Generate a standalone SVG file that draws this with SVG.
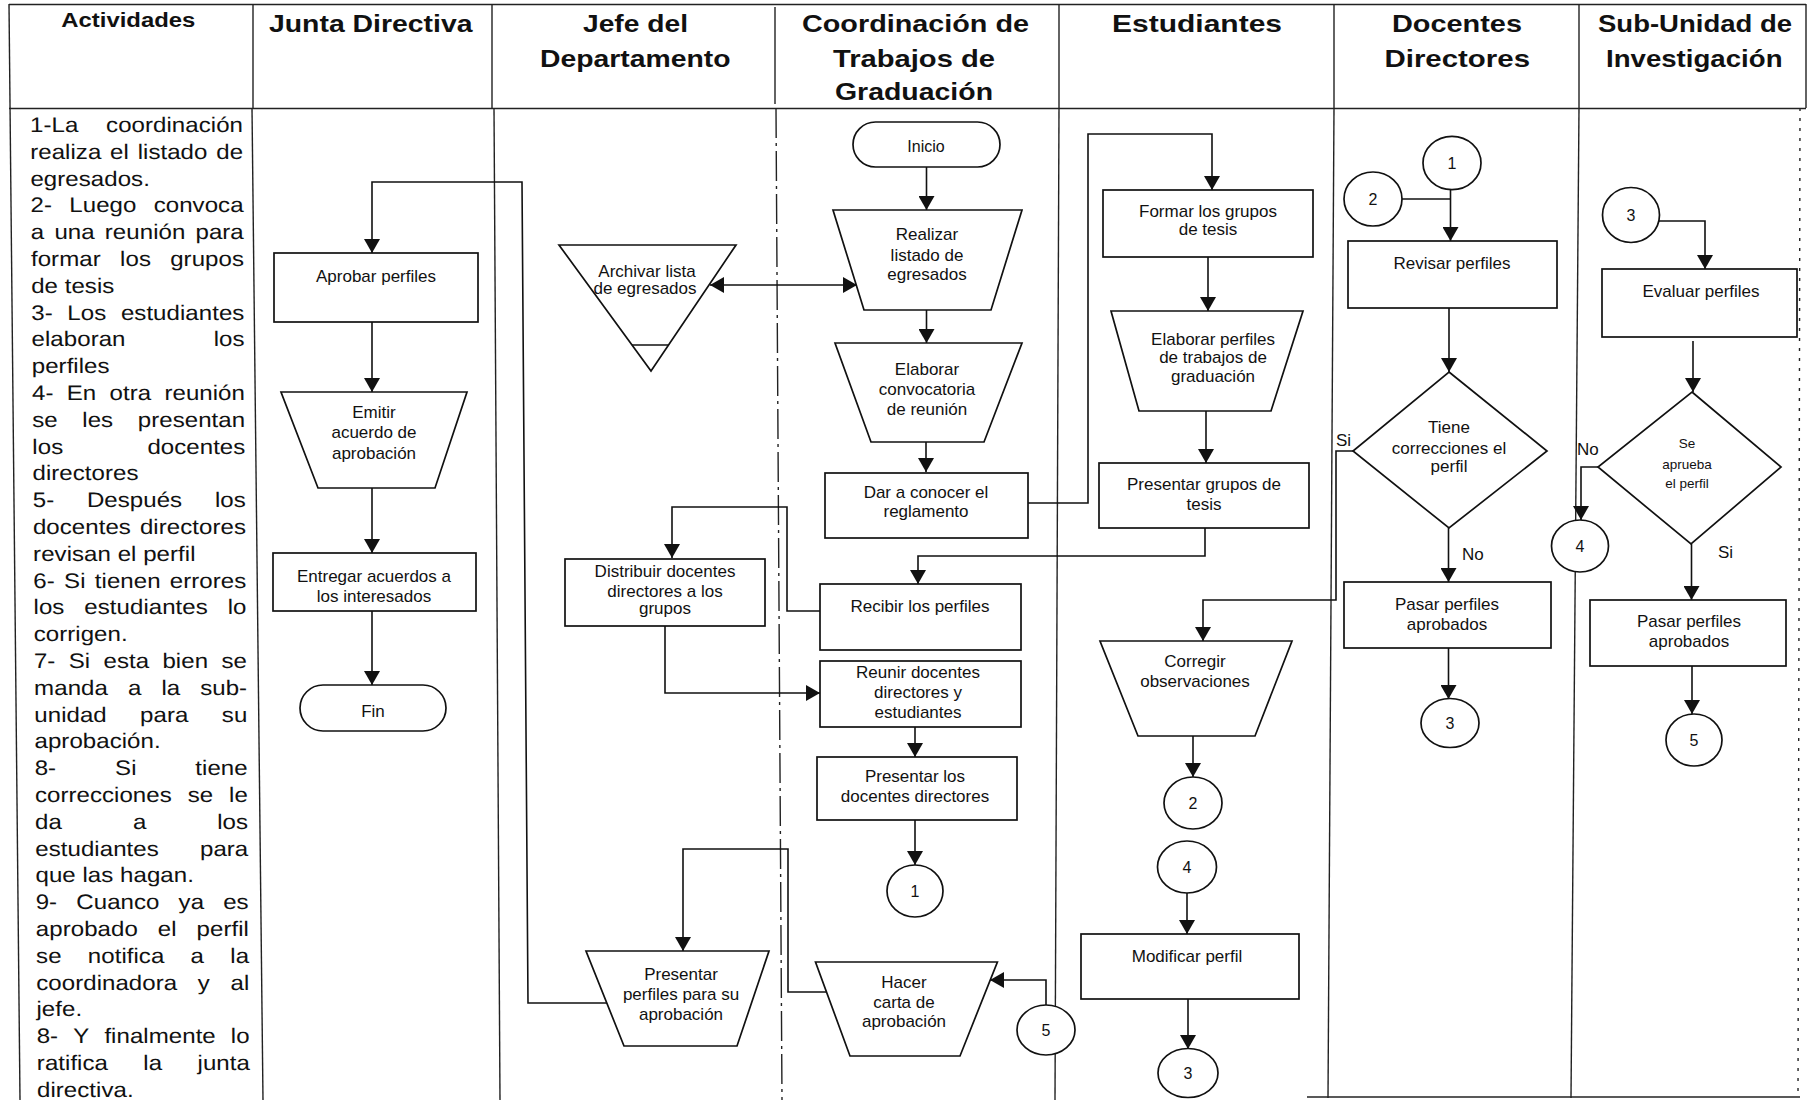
<svg xmlns="http://www.w3.org/2000/svg" width="1809" height="1100" viewBox="0 0 1809 1100">
<defs>
  <marker id="ah" viewBox="0 0 14 16" refX="14" refY="8" markerWidth="14" markerHeight="16" markerUnits="userSpaceOnUse" orient="auto-start-reverse">
    <path d="M0,0 L14,8 L0,16 Z" fill="#111"/>
  </marker>
</defs>
<style>
  text { font-family: "Liberation Sans", Arial, Helvetica, sans-serif; fill: #111; }
  .hd { font-weight: bold; font-size: 24px; }
  .act { font-size: 21px; }
  .e { text-anchor: end; }
  .lb { font-size: 17px; text-anchor: middle; }
  .sm { font-size: 13.5px; text-anchor: middle; }
  .num { font-size: 16px; text-anchor: middle; }
  .tag { font-size: 17px; }
  .grid { stroke: #222; stroke-width: 1.4; fill: none; }
  .shape { fill: #fff; stroke: #111; stroke-width: 1.7; }
  .conn { fill: none; stroke: #111; stroke-width: 1.6; }
  .arr { marker-end: url(#ah); }
</style>
<rect width="1809" height="1100" fill="#fff"/>

<!-- swimlane table -->
<g id="table">
  <line class="grid" x1="9" y1="4.5" x2="1806" y2="4.5"/>
  <line class="grid" x1="9" y1="108.5" x2="1806" y2="108.5"/>
  <line class="grid" x1="9" y1="4" x2="20" y2="1100"/>
  <line class="grid" x1="253" y1="4" x2="253" y2="108"/>
  <line class="grid" x1="492" y1="4" x2="492" y2="108"/>
  <line class="grid" x1="775" y1="7" x2="775" y2="104"/>
  <line class="grid" x1="1059" y1="4" x2="1059" y2="108"/>
  <line class="grid" x1="1334" y1="4" x2="1334" y2="108"/>
  <line class="grid" x1="1579" y1="4" x2="1579" y2="108"/>
  <line class="grid" x1="1806" y1="4" x2="1806" y2="108"/>
  <line class="grid" x1="252" y1="108" x2="263" y2="1100"/>
  <line class="grid" x1="494" y1="108" x2="500" y2="1100"/>
  <line class="grid" x1="776" y1="108" x2="782" y2="1100" stroke-dasharray="30 5 3 5"/>
  <line class="grid" x1="1059" y1="108" x2="1055" y2="1100"/>
  <line class="grid" x1="1334" y1="108" x2="1328" y2="1098"/>
  <line class="grid" x1="1579" y1="108" x2="1571" y2="1098"/>
  <line class="grid" x1="1800" y1="108" x2="1798" y2="1098" stroke-dasharray="3 7" stroke-width="1.2"/>
  <line class="grid" x1="1307" y1="1097" x2="1800" y2="1097"/>
</g>

<!-- column headings -->
<g id="headings">
  <text class="hd" x="61.3" y="27" font-size="20" textLength="134" lengthAdjust="spacingAndGlyphs" style="font-size:20px">Actividades</text>
  <text class="hd" x="269" y="32" textLength="203.5" lengthAdjust="spacingAndGlyphs">Junta Directiva</text>
  <text class="hd" x="583" y="32" textLength="105" lengthAdjust="spacingAndGlyphs">Jefe del</text>
  <text class="hd" x="540" y="67" textLength="190.5" lengthAdjust="spacingAndGlyphs">Departamento</text>
  <text class="hd" x="802" y="32" textLength="227" lengthAdjust="spacingAndGlyphs">Coordinación de</text>
  <text class="hd" x="833" y="67" textLength="162" lengthAdjust="spacingAndGlyphs">Trabajos de</text>
  <text class="hd" x="835" y="100" textLength="158" lengthAdjust="spacingAndGlyphs">Graduación</text>
  <text class="hd" x="1112" y="32" textLength="170" lengthAdjust="spacingAndGlyphs">Estudiantes</text>
  <text class="hd" x="1392" y="32" textLength="130" lengthAdjust="spacingAndGlyphs">Docentes</text>
  <text class="hd" x="1384.5" y="67" textLength="145.5" lengthAdjust="spacingAndGlyphs">Directores</text>
  <text class="hd" x="1598" y="32" textLength="194" lengthAdjust="spacingAndGlyphs">Sub-Unidad de</text>
  <text class="hd" x="1606" y="67" textLength="176.5" lengthAdjust="spacingAndGlyphs">Investigación</text>
</g>

<!-- activity description, justified column -->
<g id="actividades" class="act" transform="matrix(1.15 0 0.0073 1 0 0)">
  <text class="act" y="132"><tspan x="25.25">1-La</tspan><tspan x="210.5" class="e">coordinación</tspan></text>
  <text class="act" y="158.8"><tspan x="25.25">realiza</tspan><tspan x="94.7">el</tspan><tspan x="118.7">listado</tspan><tspan x="210.5" class="e">de</tspan></text>
  <text class="act" y="185.6"><tspan x="25.25">egresados.</tspan></text>
  <text class="act" y="212.4"><tspan x="25.25">2-</tspan><tspan x="58.9">Luego</tspan><tspan x="210.5" class="e">convoca</tspan></text>
  <text class="act" y="239.2"><tspan x="25.25">a</tspan><tspan x="45.8">una</tspan><tspan x="89.65">reunión</tspan><tspan x="210.5" class="e">para</tspan></text>
  <text class="act" y="266"><tspan x="25.25">formar</tspan><tspan x="102.75">los</tspan><tspan x="210.5" class="e">grupos</tspan></text>
  <text class="act" y="292.8"><tspan x="25.25">de tesis</tspan></text>
  <text class="act" y="319.6"><tspan x="25.25">3-</tspan><tspan x="56.55">Los</tspan><tspan x="210.5" class="e">estudiantes</tspan></text>
  <text class="act" y="346.4"><tspan x="25.25">elaboran</tspan><tspan x="210.5" class="e">los</tspan></text>
  <text class="act" y="373.2"><tspan x="25.25">perfiles</tspan></text>
  <text class="act" y="400"><tspan x="25.25">4-</tspan><tspan x="55.5">En</tspan><tspan x="92.75">otra</tspan><tspan x="210.5" class="e">reunión</tspan></text>
  <text class="act" y="426.8"><tspan x="25.25">se</tspan><tspan x="68.85">les</tspan><tspan x="210.5" class="e">presentan</tspan></text>
  <text class="act" y="453.6"><tspan x="25.25">los</tspan><tspan x="210.5" class="e">docentes</tspan></text>
  <text class="act" y="480.4"><tspan x="25.25">directores</tspan></text>
  <text class="act" y="507.2"><tspan x="25.25">5-</tspan><tspan x="72.35">Después</tspan><tspan x="210.5" class="e">los</tspan></text>
  <text class="act" y="534"><tspan x="25.25">docentes</tspan><tspan x="210.5" class="e">directores</tspan></text>
  <text class="act" y="560.8"><tspan x="25.25">revisan el perfil</tspan></text>
  <text class="act" y="587.6"><tspan x="25.25">6-</tspan><tspan x="52">Si</tspan><tspan x="78.75">tienen</tspan><tspan x="210.5" class="e">errores</tspan></text>
  <text class="act" y="614.4"><tspan x="25.25">los</tspan><tspan x="69.45">estudiantes</tspan><tspan x="210.5" class="e">lo</tspan></text>
  <text class="act" y="641.2"><tspan x="25.25">corrigen.</tspan></text>
  <text class="act" y="668"><tspan x="25.25">7-</tspan><tspan x="55.5">Si</tspan><tspan x="85.76">esta</tspan><tspan x="137">bien</tspan><tspan x="210.5" class="e">se</tspan></text>
  <text class="act" y="694.8"><tspan x="25.25">manda</tspan><tspan x="106.85">a</tspan><tspan x="135.95">la</tspan><tspan x="210.5" class="e">sub-</tspan></text>
  <text class="act" y="721.6"><tspan x="25.25">unidad</tspan><tspan x="117.25">para</tspan><tspan x="210.5" class="e">su</tspan></text>
  <text class="act" y="748.4"><tspan x="25.25">aprobación.</tspan></text>
  <text class="act" y="775.2"><tspan x="25.25">8-</tspan><tspan x="95.15">Si</tspan><tspan x="210.5" class="e">tiene</tspan></text>
  <text class="act" y="802"><tspan x="25.25">correcciones</tspan><tspan x="158.15">se</tspan><tspan x="210.5" class="e">le</tspan></text>
  <text class="act" y="828.8"><tspan x="25.25">da</tspan><tspan x="110.35">a</tspan><tspan x="210.5" class="e">los</tspan></text>
  <text class="act" y="855.6"><tspan x="25.25">estudiantes</tspan><tspan x="210.5" class="e">para</tspan></text>
  <text class="act" y="882.4"><tspan x="25.25">que las hagan.</tspan></text>
  <text class="act" y="909.2"><tspan x="25.25">9-</tspan><tspan x="60.55">Cuanco</tspan><tspan x="149.55">ya</tspan><tspan x="210.5" class="e">es</tspan></text>
  <text class="act" y="936"><tspan x="25.25">aprobado</tspan><tspan x="131.35">el</tspan><tspan x="210.5" class="e">perfil</tspan></text>
  <text class="act" y="962.8"><tspan x="25.25">se</tspan><tspan x="70.3">notifica</tspan><tspan x="159.65">a</tspan><tspan x="210.5" class="e">la</tspan></text>
  <text class="act" y="989.6"><tspan x="25.25">coordinadora</tspan><tspan x="165.75">y</tspan><tspan x="210.5" class="e">al</tspan></text>
  <text class="act" y="1016.4"><tspan x="25.25">jefe.</tspan></text>
  <text class="act" y="1043.2"><tspan x="25.25">8-</tspan><tspan x="57.05">Y</tspan><tspan x="84.15">finalmente</tspan><tspan x="210.5" class="e">lo</tspan></text>
  <text class="act" y="1070"><tspan x="25.25">ratifica</tspan><tspan x="117.85">la</tspan><tspan x="210.5" class="e">junta</tspan></text>
  <text class="act" y="1096.8"><tspan x="25.25">directiva.</tspan></text>
</g>

<!-- connectors -->
<g id="connectors">
  <path class="conn arr" d="M926.5,167 V210"/>
  <path class="conn arr" d="M926.5,310 V343"/>
  <path class="conn arr" d="M926,442 V472"/>
  <path class="conn arr" d="M1028,503 H1088 V134 H1212 V190"/>
  <path class="conn arr" d="M1208,257 V311"/>
  <path class="conn arr" d="M1206,411 V463"/>
  <path class="conn arr" d="M1205,528 V556 H918 V584"/>
  <path class="conn arr" d="M820,611 H787 V507 H672 V558"/>
  <path class="conn arr" d="M665,626 V693 H820"/>
  <path class="conn arr" d="M915,727 V757"/>
  <path class="conn arr" d="M915,820 V865"/>
  <path class="conn" d="M710,285 H857" marker-start="url(#ah)" marker-end="url(#ah)"/>
  <path class="conn" d="M1402,199 H1450.5"/>
  <path class="conn arr" d="M1450.5,190 V241"/>
  <path class="conn arr" d="M1449,308 V372"/>
  <path class="conn arr" d="M1448.5,528 V582"/>
  <path class="conn arr" d="M1448.5,648 V699"/>
  <path class="conn arr" d="M1353,451 H1336 V600 H1203 V641"/>
  <path class="conn arr" d="M1193,736 V777"/>
  <path class="conn arr" d="M1187,893 V934"/>
  <path class="conn arr" d="M1188,999 V1049"/>
  <path class="conn arr" d="M1659,221 H1705 V269"/>
  <path class="conn arr" d="M1693,341 V392"/>
  <path class="conn arr" d="M1598,467 H1581 V520"/>
  <path class="conn arr" d="M1691.5,544 V600"/>
  <path class="conn arr" d="M1692,666 V714"/>
  <path class="conn arr" d="M1046,1005 V980 H990"/>
  <path class="conn arr" d="M826,992 H788 V849 H683 V951"/>
  <path class="conn arr" d="M607,1003 H528 L522,182 H372 V253"/>
  <path class="conn arr" d="M372,322 V392"/>
  <path class="conn arr" d="M372,488 V553"/>
  <path class="conn arr" d="M372,611 V685"/>
  <text class="tag" x="1336" y="446">Si</text>
  <text class="tag" x="1462" y="560">No</text>
  <text class="tag" x="1577" y="455">No</text>
  <text class="tag" x="1718" y="558">Si</text>
</g>

<!-- Junta Directiva -->
<g id="aprobar-perfiles">
  <rect class="shape" x="274" y="253" width="204" height="69"/>
  <text class="lb" x="376" y="282">Aprobar perfiles</text>
</g>
<g id="emitir-acuerdo">
  <polygon class="shape" points="281,392 467,392 435,488 318,488"/>
  <text class="lb" x="374" y="418">Emitir</text>
  <text class="lb" x="374" y="438">acuerdo de</text>
  <text class="lb" x="374" y="459">aprobación</text>
</g>
<g id="entregar-acuerdos">
  <rect class="shape" x="273" y="553" width="203" height="58"/>
  <text class="lb" x="374" y="582">Entregar acuerdos a</text>
  <text class="lb" x="374" y="602">los interesados</text>
</g>
<g id="fin">
  <rect class="shape" x="300" y="685" width="146" height="46" rx="23"/>
  <text class="lb" x="373" y="717">Fin</text>
</g>

<!-- Jefe del Departamento -->
<g id="archivar-lista">
  <polygon class="shape" points="559,245 736,245 651,371"/>
  <line class="shape" x1="632" y1="345" x2="668.5" y2="345"/>
  <text class="lb" x="647" y="277">Archivar lista</text>
  <text class="lb" x="645" y="294">de egresados</text>
</g>
<g id="distribuir-docentes">
  <rect class="shape" x="565" y="559" width="200" height="67"/>
  <text class="lb" x="665" y="577">Distribuir docentes</text>
  <text class="lb" x="665" y="597">directores a los</text>
  <text class="lb" x="665" y="614">grupos</text>
</g>
<g id="presentar-perfiles">
  <polygon class="shape" points="586,951 769,951 737,1046 624,1046"/>
  <text class="lb" x="681" y="980">Presentar</text>
  <text class="lb" x="681" y="1000">perfiles para su</text>
  <text class="lb" x="681" y="1020">aprobación</text>
</g>

<!-- Coordinación de Trabajos de Graduación -->
<g id="inicio">
  <rect class="shape" x="853" y="122" width="147" height="45" rx="22.5"/>
  <text class="lb" x="926" y="152" style="font-size:16px">Inicio</text>
</g>
<g id="realizar-listado">
  <polygon class="shape" points="833,210 1022,210 991,310 864,310"/>
  <text class="lb" x="927" y="240">Realizar</text>
  <text class="lb" x="927" y="260.5">listado de</text>
  <text class="lb" x="927" y="280">egresados</text>
</g>
<g id="elaborar-convocatoria">
  <polygon class="shape" points="835,343 1022,343 984,442 871,442"/>
  <text class="lb" x="927" y="375">Elaborar</text>
  <text class="lb" x="927" y="395">convocatoria</text>
  <text class="lb" x="927" y="415">de reunión</text>
</g>
<g id="dar-reglamento">
  <rect class="shape" x="825" y="473" width="203" height="65"/>
  <text class="lb" x="926" y="498">Dar a conocer el</text>
  <text class="lb" x="926" y="517">reglamento</text>
</g>
<g id="recibir-perfiles">
  <rect class="shape" x="820" y="584" width="201" height="66"/>
  <text class="lb" x="920" y="612">Recibir los perfiles</text>
</g>
<g id="reunir-docentes">
  <rect class="shape" x="820" y="661" width="201" height="66"/>
  <text class="lb" x="918" y="678">Reunir docentes</text>
  <text class="lb" x="918" y="698">directores y</text>
  <text class="lb" x="918" y="718">estudiantes</text>
</g>
<g id="presentar-docentes">
  <rect class="shape" x="817" y="757" width="200" height="63"/>
  <text class="lb" x="915" y="782">Presentar los</text>
  <text class="lb" x="915" y="802">docentes directores</text>
</g>
<g id="conector-1-coord">
  <ellipse class="shape" cx="915" cy="891" rx="28" ry="26"/>
  <text class="num" x="915" y="897">1</text>
</g>
<g id="hacer-carta">
  <polygon class="shape" points="815.5,962 997.4,962 960,1056 850,1056"/>
  <text class="lb" x="904" y="988">Hacer</text>
  <text class="lb" x="904" y="1008">carta de</text>
  <text class="lb" x="904" y="1027">aprobación</text>
</g>
<g id="conector-5-coord">
  <ellipse class="shape" cx="1046" cy="1030" rx="29" ry="25"/>
  <text class="num" x="1046" y="1036">5</text>
</g>

<!-- Estudiantes -->
<g id="formar-grupos">
  <rect class="shape" x="1103" y="190" width="210" height="67"/>
  <text class="lb" x="1208" y="217">Formar los grupos</text>
  <text class="lb" x="1208" y="235">de tesis</text>
</g>
<g id="elaborar-perfiles">
  <polygon class="shape" points="1111,311 1303,311 1271,411 1139,411"/>
  <text class="lb" x="1213" y="345">Elaborar perfiles</text>
  <text class="lb" x="1213" y="363">de trabajos de</text>
  <text class="lb" x="1213" y="382">graduación</text>
</g>
<g id="presentar-grupos">
  <rect class="shape" x="1099" y="463" width="210" height="65"/>
  <text class="lb" x="1204" y="490">Presentar grupos de</text>
  <text class="lb" x="1204" y="510">tesis</text>
</g>
<g id="corregir-observaciones">
  <polygon class="shape" points="1100,641 1292,641 1255,736 1138,736"/>
  <text class="lb" x="1195" y="667">Corregir</text>
  <text class="lb" x="1195" y="687">observaciones</text>
</g>
<g id="conector-2-est">
  <ellipse class="shape" cx="1193" cy="803" rx="29" ry="26"/>
  <text class="num" x="1193" y="809">2</text>
</g>
<g id="conector-4-est">
  <ellipse class="shape" cx="1187" cy="867" rx="29.5" ry="26"/>
  <text class="num" x="1187" y="873">4</text>
</g>
<g id="modificar-perfil">
  <rect class="shape" x="1081" y="934" width="218" height="65"/>
  <text class="lb" x="1187" y="962">Modificar perfil</text>
</g>
<g id="conector-3-est">
  <ellipse class="shape" cx="1188" cy="1073" rx="30" ry="24.5"/>
  <text class="num" x="1188" y="1079">3</text>
</g>

<!-- Docentes Directores -->
<g id="conector-1-doc">
  <ellipse class="shape" cx="1452" cy="163" rx="29" ry="26.7"/>
  <text class="num" x="1452" y="169">1</text>
</g>
<g id="conector-2-doc">
  <ellipse class="shape" cx="1373" cy="199" rx="29" ry="27"/>
  <text class="num" x="1373" y="205">2</text>
</g>
<g id="revisar-perfiles">
  <rect class="shape" x="1348" y="241" width="209" height="67"/>
  <text class="lb" x="1452" y="269">Revisar perfiles</text>
</g>
<g id="tiene-correcciones">
  <polygon class="shape" points="1449,372 1547,451 1449,528 1353,451"/>
  <text class="lb" x="1449" y="433">Tiene</text>
  <text class="lb" x="1449" y="454">correcciones el</text>
  <text class="lb" x="1449" y="472">perfil</text>
</g>
<g id="pasar-perfiles-doc">
  <rect class="shape" x="1344" y="582" width="207" height="66"/>
  <text class="lb" x="1447" y="610">Pasar perfiles</text>
  <text class="lb" x="1447" y="630">aprobados</text>
</g>
<g id="conector-3-doc">
  <ellipse class="shape" cx="1450" cy="723" rx="29" ry="24.5"/>
  <text class="num" x="1450" y="729">3</text>
</g>

<!-- Sub-Unidad de Investigación -->
<g id="conector-3-sub">
  <ellipse class="shape" cx="1631" cy="215" rx="28.5" ry="27.5"/>
  <text class="num" x="1631" y="221">3</text>
</g>
<g id="evaluar-perfiles">
  <rect class="shape" x="1602" y="269" width="195" height="68"/>
  <text class="lb" x="1701" y="297">Evaluar perfiles</text>
</g>
<g id="se-aprueba">
  <polygon class="shape" points="1692,392 1781,467 1691,544 1598,467"/>
  <text class="sm" x="1687" y="448">Se</text>
  <text class="sm" x="1687" y="469">aprueba</text>
  <text class="sm" x="1687" y="488">el perfil</text>
</g>
<g id="conector-4-sub">
  <ellipse class="shape" cx="1580" cy="546" rx="28.5" ry="26"/>
  <text class="num" x="1580" y="552">4</text>
</g>
<g id="pasar-perfiles-sub">
  <rect class="shape" x="1590" y="600" width="196" height="66"/>
  <text class="lb" x="1689" y="627">Pasar perfiles</text>
  <text class="lb" x="1689" y="647">aprobados</text>
</g>
<g id="conector-5-sub">
  <ellipse class="shape" cx="1694" cy="740" rx="28" ry="26"/>
  <text class="num" x="1694" y="746">5</text>
</g>
</svg>
